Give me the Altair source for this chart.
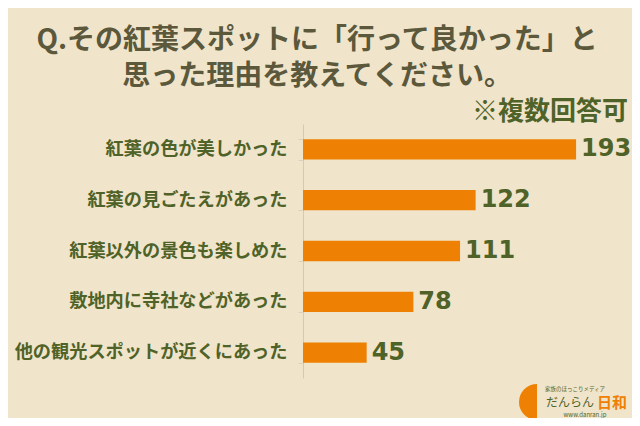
import math
import altair as alt
import pandas as pd

categories = [
    "紅葉の色が美しかった",
    "紅葉の見ごたえがあった",
    "紅葉以外の景色も楽しめた",
    "敷地内に寺社などがあった",
    "他の観光スポットが近くにあった",
]
values = [193, 122, 111, 78, 45]
title_lines = ["Q.その紅葉スポットに「行って良かった」と", "思った理由を教えてください。"]
note_text = "※複数回答可"
logo_top = "家族のほっこりメディア"
logo_main = "だんらん"
logo_accent = "日和"
logo_url = "www.danran.jp"

BG = "#f0e5cb"
ORANGE = "#ee8103"
OLIVE = "#4f6228"
TITLE_C = "#5b583c"
JP = "Noto Sans CJK JP"

df = pd.DataFrame({"category": categories, "value": values})

base = alt.Chart(df).encode(
    y=alt.Y(
        "category:N",
        sort=categories,
        scale=alt.Scale(paddingInner=0.6, paddingOuter=0.3),
        axis=alt.Axis(
            title=None,
            labelFont=JP,
            labelFontSize=18.2,
            labelFontWeight="bold",
            labelColor=OLIVE,
            labelPadding=11,
            labelLimit=0,
            tickBand="extent",
            tickSize=5,
            tickColor="#d8d2c0",
            domainColor="#d0cab8",
            grid=False,
        ),
    ),
    x=alt.X("value:Q", scale=alt.Scale(domain=[0, 200]), axis=None),
)

bars = base.mark_bar(color=ORANGE)
vals = base.mark_text(
    align="left", baseline="middle", dx=5,
    font="DejaVu Sans", fontSize=24, fontWeight="bold", color=OLIVE,
).encode(text="value:Q")


def txt(s, x, y, size, color, align="center", weight="bold", font=JP, **kw):
    return alt.Chart(pd.DataFrame({"t": [s]})).mark_text(
        align=align, baseline="middle", font=font, fontSize=size,
        fontWeight=weight, color=color, **kw,
    ).encode(x=alt.value(x), y=alt.value(y), text="t:N")


title = txt("\n".join(title_lines), 14, -83, 28, TITLE_C, lineBreak="\n", lineHeight=36)
note = txt(note_text, 325, -12, 26, OLIVE, align="right")

arc = alt.Chart(pd.DataFrame({"t": [1]})).mark_arc(
    theta=math.pi, theta2=2 * math.pi, radius=18, color=ORANGE
).encode(x=alt.value(234), y=alt.value(278))
lg1 = txt(logo_top, 272, 265, 5.5, OLIVE, weight="normal")
lg2 = txt(logo_main, 243, 279, 12, OLIVE, align="left", weight="normal")
lg3 = txt(logo_accent, 294, 279, 15, ORANGE, align="left")
lg4 = txt(logo_url, 282, 291, 6, OLIVE, weight="normal")

chart = alt.layer(bars, vals, title, note, arc, lg1, lg2, lg3, lg4).properties(
    width=283,
    height=254,
    padding={"left": 295, "top": 116, "right": 46, "bottom": 40},
    autosize=alt.AutoSizeParams(type="none"),
    background=BG,
).configure_view(stroke=None)

chart.save("out.html", embed_options={"renderer": "svg", "actions": False})
